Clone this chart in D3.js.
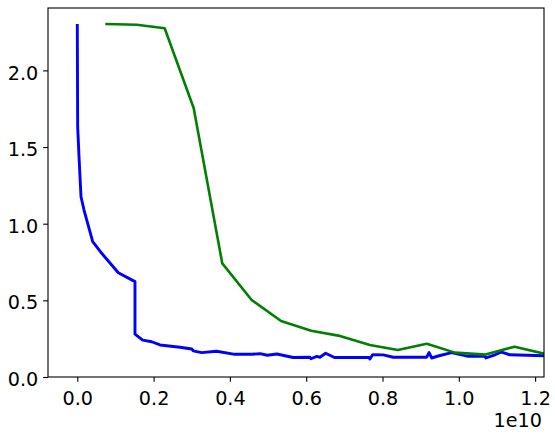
<!DOCTYPE html>
<html>
<head>
<meta charset="utf-8">
<script src="https://cdn.jsdelivr.net/npm/d3@7"></script>
<style>
  html, body { margin: 0; padding: 0; background: #fff; }
  svg { display: block; }
  text { font-family: "DejaVu Sans", sans-serif; }
</style>
</head>
<body>
<svg id="chart" width="555" height="436"></svg>
<script>
// Data (x in units of 1e10)
const blueX = [0.000, 0.001, 0.0045, 0.0097, 0.0176, 0.0404, 0.064, 0.1075, 0.1512, 0.1512,
  0.1714, 0.195, 0.2168, 0.269, 0.300, 0.304, 0.326, 0.365, 0.413, 0.457,
  0.479, 0.498, 0.523, 0.566, 0.610, 0.6125, 0.6275, 0.636, 0.651, 0.674,
  0.765, 0.767, 0.774, 0.802, 0.828, 0.916, 0.922, 0.929, 0.946, 0.981,
  1.025, 1.069, 1.071, 1.095, 1.112, 1.134, 1.224];
const blueY = [2.303, 1.633, 1.437, 1.176, 1.089, 0.883, 0.807, 0.680, 0.622, 0.280,
  0.241, 0.230, 0.209, 0.194, 0.183, 0.170, 0.159, 0.168, 0.148, 0.148,
  0.152, 0.142, 0.150, 0.127, 0.129, 0.119, 0.134, 0.129, 0.155, 0.127,
  0.127, 0.117, 0.145, 0.144, 0.129, 0.129, 0.159, 0.124, 0.137, 0.159,
  0.135, 0.135, 0.124, 0.145, 0.163, 0.145, 0.139];
const greenX = [0.0734, 0.156, 0.229, 0.305, 0.380, 0.457, 0.534, 0.613, 0.684, 0.767,
  0.840, 0.916, 0.990, 1.070, 1.146, 1.224];
const greenY = [2.303, 2.298, 2.275, 1.755, 0.741, 0.502, 0.365, 0.302, 0.270, 0.209,
  0.176, 0.217, 0.159, 0.146, 0.198, 0.152];
const xTicks = [0.0, 0.2, 0.4, 0.6, 0.8, 1.0, 1.2];
const yTicks = [0.0, 0.5, 1.0, 1.5, 2.0];
const xOffsetLabel = "1e10";

const svg = d3.select("#chart");
const L = 48, T = 8, R = 544, B = 377;
const x = d3.scaleLinear().domain([-0.0768, 1.2233]).range([L, R]);
const y = d3.scaleLinear().domain([0, 2.407]).range([B, T]);

const fs = "19.2px";
const tickLen = 4.86, pad = 4.86;

svg.append("defs").append("clipPath").attr("id", "clip")
  .append("rect").attr("x", L).attr("y", T).attr("width", R - L).attr("height", B - T);

const line = d3.line().x(d => x(d[0])).y(d => y(d[1]));
const g = svg.append("g").attr("clip-path", "url(#clip)");
g.append("path").datum(blueX.map((v, i) => [v, blueY[i]]))
  .attr("d", line).attr("fill", "none").attr("stroke", "#0000ff")
  .attr("stroke-width", 2.9).attr("stroke-linejoin", "round").attr("stroke-linecap", "butt");
g.append("path").datum(greenX.map((v, i) => [v, greenY[i]]))
  .attr("d", line).attr("fill", "none").attr("stroke", "#008000")
  .attr("stroke-width", 2.6).attr("stroke-linejoin", "round").attr("stroke-linecap", "butt");

const xAxis = svg.append("g").attr("transform", `translate(0,${B})`)
  .call(d3.axisBottom(x).tickValues(xTicks).tickFormat(d3.format(".1f"))
    .tickSize(tickLen).tickPadding(pad));
const yAxis = svg.append("g").attr("transform", `translate(${L},0)`)
  .call(d3.axisLeft(y).tickValues(yTicks).tickFormat(d3.format(".1f"))
    .tickSize(tickLen).tickPadding(pad));
[xAxis, yAxis].forEach(a => {
  a.select(".domain").remove();
  a.selectAll(".tick line").attr("stroke", "#000").attr("stroke-width", 1.1);
  a.selectAll(".tick text").attr("fill", "#000").style("font-size", fs)
    .style("font-family", "'DejaVu Sans', sans-serif");
});
xAxis.selectAll(".tick text").attr("dy", "0.95em");
yAxis.selectAll(".tick text").attr("dy", "0.45em");

svg.append("rect").attr("x", L).attr("y", T).attr("width", R - L).attr("height", B - T)
  .attr("fill", "none").attr("stroke", "#000").attr("stroke-width", 1.1);

svg.append("text").attr("x", 542).attr("y", 427).attr("text-anchor", "end")
  .style("font-size", fs).attr("fill", "#000").text(xOffsetLabel);
</script>
</body>
</html>
